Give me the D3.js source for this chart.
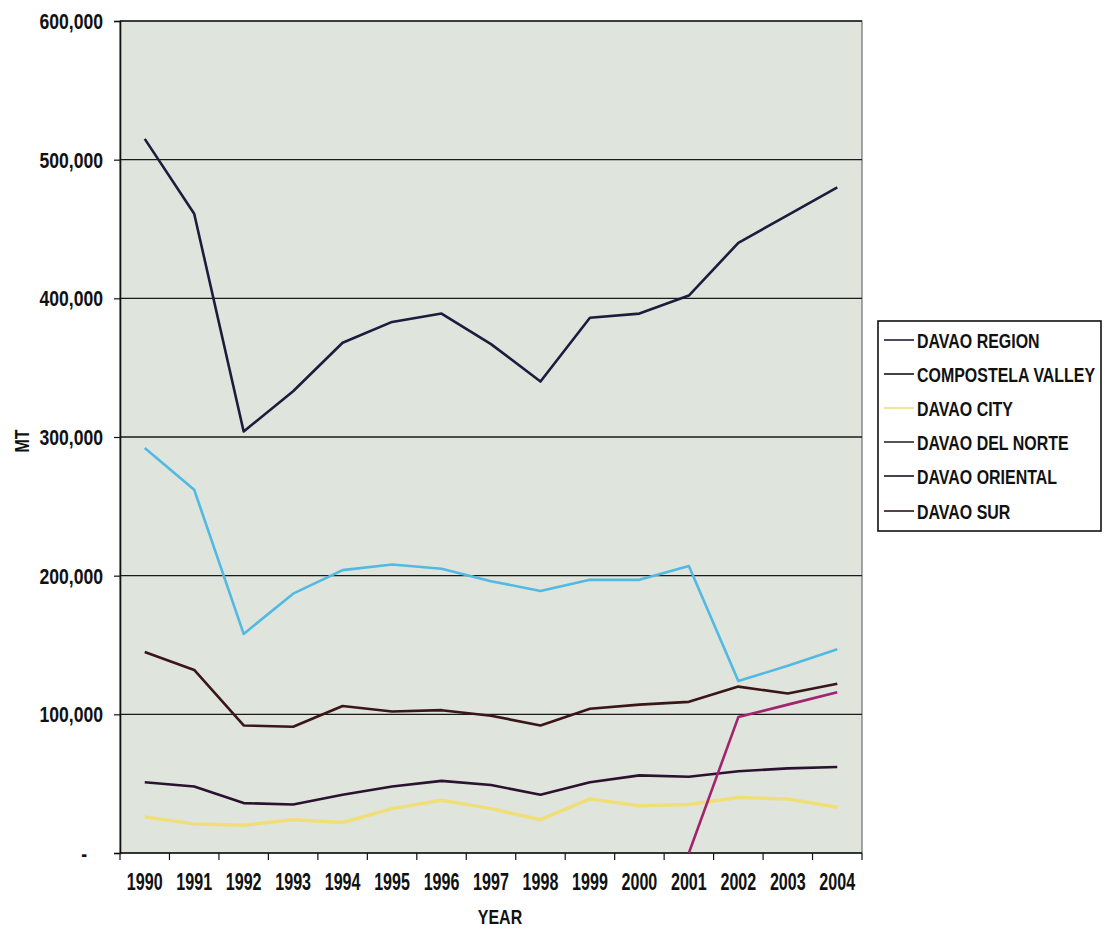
<!DOCTYPE html>
<html>
<head>
<meta charset="utf-8">
<script src="https://cdn.jsdelivr.net/npm/d3@7"></script>
<style>
  html, body { margin: 0; padding: 0; background: #ffffff; }
  svg { display: block; }
  text { font-family: "Liberation Sans", Arial, sans-serif; font-weight: bold; fill: #111; }
</style>
</head>
<body>
<script>
// ---- data ----
const years = ["1990","1991","1992","1993","1994","1995","1996","1997","1998","1999","2000","2001","2002","2003","2004"];
const seriesNames = ["DAVAO REGION","COMPOSTELA VALLEY","DAVAO CITY","DAVAO DEL NORTE","DAVAO ORIENTAL","DAVAO SUR"];
const davaoRegion      = [515000, 461000, 304000, 333000, 368000, 383000, 389000, 367000, 340000, 386000, 389000, 402000, 440000, 460000, 480000];
const compostelaValley = [null, null, null, null, null, null, null, null, null, null, null, 0, 98000, 107000, 116000];
const davaoCity        = [26000, 21000, 20000, 24000, 22000, 32000, 38000, 32000, 24000, 39000, 34000, 35000, 40000, 39000, 33000];
const davaoDelNorte    = [292000, 262000, 158000, 187000, 204000, 208000, 205000, 196000, 189000, 197000, 197000, 207000, 124000, 135000, 147000];
const davaoOriental    = [51000, 48000, 36000, 35000, 42000, 48000, 52000, 49000, 42000, 51000, 56000, 55000, 59000, 61000, 62000];
const davaoSur         = [145000, 132000, 92000, 91000, 106000, 102000, 103000, 99000, 92000, 104000, 107000, 109000, 120000, 115000, 122000];
const yTicks = [0, 100000, 200000, 300000, 400000, 500000, 600000];
const seriesColors = ["#1c1d3c", "#a3236f", "#f0df78", "#52b9e2", "#2b1230", "#3a1616"];
const legendLineColors = ["#1c1d3c", "#1a1014", "#f0df78", "#2a2a2a", "#1e1020", "#2a1212"];

const seriesValues = [davaoRegion, compostelaValley, davaoCity, davaoDelNorte, davaoOriental, davaoSur];

// ---- layout ----
const W = 1105, H = 929;
const plot = { left: 120, right: 862, top: 21, bottom: 853 };

const svg = d3.select("body").append("svg").attr("width", W).attr("height", H);

function narrow(g, tx, ty, str, size, sx, anchor, rot) {
  return g.append("text")
    .attr("transform", `translate(${tx},${ty})` + (rot ? ` rotate(${rot})` : "") + ` scale(${sx},1)`)
    .attr("text-anchor", anchor || "start")
    .attr("font-size", size)
    .text(str);
}

const x = d3.scaleBand().domain(years).range([plot.left, plot.right]).padding(0);
const y = d3.scaleLinear().domain([0, 600000]).range([plot.bottom, plot.top]);

// plot background
svg.append("rect")
  .attr("x", plot.left).attr("y", plot.top)
  .attr("width", plot.right - plot.left).attr("height", plot.bottom - plot.top)
  .attr("fill", "#dfe4dd").attr("stroke", "#555").attr("stroke-width", 1);

// gridlines
svg.append("g").selectAll("line").data(yTicks.filter(d => d > 0)).join("line")
  .attr("x1", plot.left).attr("x2", plot.right)
  .attr("y1", d => y(d)).attr("y2", d => y(d))
  .attr("stroke", "#1a1a1a").attr("stroke-width", 1.3);

// y axis
const yAxis = d3.axisLeft(y).tickValues(yTicks).tickSize(6).tickFormat("");
const gy = svg.append("g").attr("transform", `translate(${plot.left},0)`).call(yAxis);
gy.select(".domain").attr("stroke", "#111").attr("stroke-width", 1.6);
gy.selectAll(".tick line").attr("stroke", "#111").attr("stroke-width", 1.2);
const fmt = d3.format(",");
yTicks.forEach(t => {
  narrow(svg, t === 0 ? 87 : 103, y(t) + 8, t === 0 ? "-" : fmt(t), 22, 0.8, "end");
});

// x axis (ticks between categories)
const gx = svg.append("g").attr("transform", `translate(0,${plot.bottom})`);
gx.append("line").attr("x1", plot.left).attr("x2", plot.right)
  .attr("stroke", "#111").attr("stroke-width", 1.6);
const boundaries = years.map(d => x(d)).concat([plot.right]);
gx.selectAll("line.tk").data(boundaries).join("line").attr("class", "tk")
  .attr("x1", d => d).attr("x2", d => d).attr("y1", 0).attr("y2", 7)
  .attr("stroke", "#111").attr("stroke-width", 1.2);
years.forEach(yr => {
  narrow(gx, x(yr) + x.bandwidth() / 2, 37, yr, 23, 0.7, "middle");
});

// axis titles
narrow(svg, 500, 924, "YEAR", 21, 0.76, "middle");
narrow(svg, 29, 441, "MT", 21, 0.76, "middle", -90);

// lines
const clipId = "plotclip";
svg.append("clipPath").attr("id", clipId).append("rect")
  .attr("x", plot.left).attr("y", plot.top)
  .attr("width", plot.right - plot.left).attr("height", plot.bottom - plot.top);

const line = d3.line()
  .defined(d => d.v !== null)
  .x(d => x(d.year) + x.bandwidth() / 2)
  .y(d => y(d.v));

const series = seriesNames.map((name, i) => ({
  name, color: seriesColors[i],
  points: years.map((yr, j) => ({ year: yr, v: seriesValues[i][j] }))
}));

// draw order: light ones first
const drawOrder = [2, 3, 4, 5, 1, 0];
svg.append("g").attr("clip-path", `url(#${clipId})`)
  .selectAll("path").data(drawOrder.map(i => series[i])).join("path")
  .attr("d", d => line(d.points))
  .attr("fill", "none")
  .attr("stroke", d => d.color)
  .attr("stroke-width", d => d.name === "DAVAO CITY" ? 3.5 : 2.6)
  .attr("stroke-linejoin", "round");

// legend
const lg = svg.append("g");
lg.append("rect").attr("x", 878).attr("y", 321).attr("width", 223).attr("height", 210)
  .attr("fill", "#ffffff").attr("stroke", "#111").attr("stroke-width", 1.6);
const rowY = [340, 374, 408, 442, 476, 511];
seriesNames.forEach((name, i) => {
  lg.append("line").attr("x1", 884).attr("x2", 914).attr("y1", rowY[i]).attr("y2", rowY[i])
    .attr("stroke", legendLineColors[i]).attr("stroke-width", 1.6);
  narrow(lg, 917, rowY[i] + 8, name, 21, 0.76, "start");
});
</script>
</body>
</html>
